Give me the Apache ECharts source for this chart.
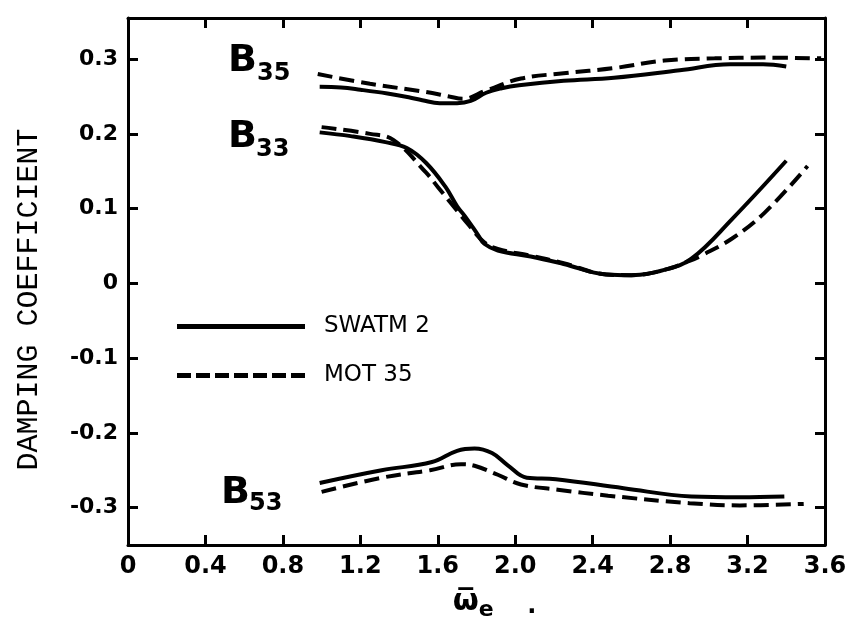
<!DOCTYPE html>
<html>
<head>
<meta charset="utf-8">
<script src="https://cdn.jsdelivr.net/npm/echarts@6/dist/echarts.min.js"></script>
<style>html,body{margin:0;padding:0;background:#fff;}#c{width:850px;height:626px;}</style>
</head>
<body>
<div id="c"></div>
<script>
// ---- data ----
const xTickValues = [0, 0.4, 0.8, 1.2, 1.6, 2.0, 2.4, 2.8, 3.2, 3.6];
const yTickValues = [-0.3, -0.2, -0.1, 0, 0.1, 0.2, 0.3];

const b35SwatmX = [0.99, 1.10, 1.20, 1.34, 1.45, 1.52, 1.61, 1.70, 1.77, 1.85, 1.93, 2.02, 2.25, 2.51, 2.85, 3.11, 3.28, 3.40];
const b35SwatmY = [0.263, 0.262, 0.259, 0.254, 0.249, 0.245, 0.241, 0.241, 0.244, 0.255, 0.261, 0.265, 0.271, 0.275, 0.285, 0.293, 0.293, 0.290];
const b35MotX = [0.98, 1.25, 1.54, 1.66, 1.73, 1.85, 2.03, 2.25, 2.51, 2.77, 3.03, 3.28, 3.58];
const b35MotY = [0.280, 0.267, 0.256, 0.250, 0.247, 0.258, 0.274, 0.281, 0.288, 0.298, 0.301, 0.302, 0.301];

const b33SwatmX = [0.99, 1.15, 1.33, 1.44, 1.54, 1.64, 1.70, 1.74, 1.81, 1.84, 1.91, 2.08, 2.25, 2.47, 2.60, 2.77, 2.91, 3.12, 3.40];
const b33SwatmY = [0.202, 0.197, 0.189, 0.181, 0.161, 0.129, 0.103, 0.090, 0.064, 0.053, 0.044, 0.036, 0.026, 0.012, 0.011, 0.018, 0.033, 0.086, 0.164];
const b33MotX = [1.00, 1.25, 1.37, 1.54, 1.60, 1.70, 1.76, 1.84, 1.91, 2.08, 2.25, 2.47, 2.60, 2.77, 2.90, 2.96, 3.12, 3.29, 3.51];
const b33MotY = [0.209, 0.200, 0.192, 0.148, 0.129, 0.097, 0.078, 0.055, 0.046, 0.037, 0.027, 0.012, 0.011, 0.018, 0.030, 0.037, 0.060, 0.095, 0.157];

const b53SwatmX = [0.99, 1.31, 1.57, 1.70, 1.79, 1.88, 1.96, 2.06, 2.21, 2.56, 2.91, 3.16, 3.39];
const b53SwatmY = [-0.267, -0.250, -0.239, -0.224, -0.221, -0.227, -0.243, -0.260, -0.262, -0.274, -0.285, -0.286, -0.285];
const b53MotX = [1.00, 1.31, 1.56, 1.72, 1.79, 1.91, 2.03, 2.22, 2.48, 2.90, 3.16, 3.49];
const b53MotY = [-0.279, -0.260, -0.250, -0.242, -0.244, -0.256, -0.269, -0.276, -0.284, -0.294, -0.297, -0.295];

const seriesNames = ['SWATM 2', 'MOT 35'];

// ---- chart ----
const pairs = (xs, ys) => xs.map((x, i) => [x, ys[i]]);
const FONT = 'DejaVu Sans';
const solid = { color: '#000', width: 4, type: 'solid' };
const dashed = { color: '#000', width: 4, type: [15, 7] };
function line(name, xs, ys, style) {
  return { type: 'line', name: name, data: pairs(xs, ys), smooth: 0.4, symbol: 'none',
    lineStyle: style, itemStyle: { color: '#000' }, xAxisIndex: 0, yAxisIndex: 0, silent: true };
}
const axisLineStyle = { onZero: false, lineStyle: { color: '#000', width: 3 } };
const tickStyle = { show: true, inside: true, length: 10, lineStyle: { color: '#000', width: 3 } };

// legend icons: a solid bar and a row of 7 dashes
let dashPath = '';
for (let i = 0; i < 7; i++) { const x0 = i * 19; dashPath += 'M' + x0 + ',0h14v5h-14z'; }
const legendIcons = ['path://M0,0h128v5h-128z', 'path://' + dashPath];

const chart = echarts.init(document.getElementById('c'));
chart.setOption({
  backgroundColor: '#fff',
  animation: false,
  grid: { left: 128, right: 25, top: 18, bottom: 66 },
  legend: {
    orient: 'vertical', left: 172, top: 310, itemWidth: 128, itemHeight: 5, itemGap: 26,
    data: seriesNames.map((n, i) => ({ name: n, icon: legendIcons[i] })),
    itemStyle: { color: '#000', borderWidth: 0 },
    textStyle: { fontFamily: FONT, fontSize: 23, color: '#000', padding: [0, 0, 0, 14] },
    selectedMode: false
  },
  xAxis: [
    { type: 'value', position: 'bottom', min: 0, max: 3.6, interval: 0.4,
      axisLine: axisLineStyle, axisTick: tickStyle, splitLine: { show: false },
      axisLabel: { margin: 10, fontFamily: FONT, fontSize: 24, fontWeight: 'bold', color: '#000',
        formatter: v => (Math.abs(v) < 1e-9 ? '0' : v.toFixed(1)) },
      name: '{w|\u03C9\u0305}{e|e}{d|    .}', nameLocation: 'middle', nameGap: 38,
      nameTextStyle: { padding: [0, 0, 0, 36], rich: {
        w: { fontFamily: FONT, fontSize: 30, fontWeight: 'bold', color: '#000' },
        e: { fontFamily: FONT, fontSize: 22, fontWeight: 'bold', color: '#000', padding: [16, 0, 0, 0] },
        d: { fontFamily: FONT, fontSize: 24, fontWeight: 'bold', color: '#000', padding: [10, 0, 0, 0] } } } },
    { type: 'value', position: 'top', min: 0, max: 3.6, interval: 0.4,
      axisLine: axisLineStyle, axisTick: tickStyle, splitLine: { show: false },
      axisLabel: { show: false } }
  ],
  yAxis: [
    { type: 'value', position: 'left', min: -0.35, max: 0.355,
      axisLine: axisLineStyle,
      axisTick: Object.assign({ customValues: yTickValues }, tickStyle),
      splitLine: { show: false },
      axisLabel: { customValues: yTickValues, margin: 10, fontFamily: FONT, fontSize: 22, fontWeight: 'bold', color: '#000',
        formatter: v => (Math.abs(v) < 1e-9 ? '0' : String(Math.round(v * 10) / 10)) },
      name: 'DAMPING COEFFICIENT', nameLocation: 'middle', nameRotate: 90, nameGap: 84,
      nameTextStyle: { fontFamily: 'Liberation Mono', fontSize: 30, color: '#000', padding: [0, 36, 0, 0] } },
    { type: 'value', position: 'right', min: -0.35, max: 0.355,
      axisLine: axisLineStyle,
      axisTick: Object.assign({ customValues: yTickValues }, tickStyle),
      splitLine: { show: false }, axisLabel: { show: false } }
  ],
  graphic: [
    { type: 'text', x: 228, y: 61, style: { text: 'B', font: 'bold 38px "DejaVu Sans"', fill: '#000', verticalAlign: 'middle' } },
    { type: 'text', x: 257, y: 74, style: { text: '35', font: 'bold 24px "DejaVu Sans"', fill: '#000', verticalAlign: 'middle' } },
    { type: 'text', x: 228, y: 137, style: { text: 'B', font: 'bold 38px "DejaVu Sans"', fill: '#000', verticalAlign: 'middle' } },
    { type: 'text', x: 256, y: 150, style: { text: '33', font: 'bold 24px "DejaVu Sans"', fill: '#000', verticalAlign: 'middle' } },
    { type: 'text', x: 221, y: 493, style: { text: 'B', font: 'bold 38px "DejaVu Sans"', fill: '#000', verticalAlign: 'middle' } },
    { type: 'text', x: 249, y: 504, style: { text: '53', font: 'bold 24px "DejaVu Sans"', fill: '#000', verticalAlign: 'middle' } }
  ],
  series: [
    line(seriesNames[0], b35SwatmX, b35SwatmY, solid),
    line(seriesNames[1], b35MotX, b35MotY, dashed),
    line(seriesNames[0], b33SwatmX, b33SwatmY, solid),
    line(seriesNames[1], b33MotX, b33MotY, dashed),
    line(seriesNames[0], b53SwatmX, b53SwatmY, solid),
    line(seriesNames[1], b53MotX, b53MotY, dashed)
  ]
});
</script>
</body>
</html>
